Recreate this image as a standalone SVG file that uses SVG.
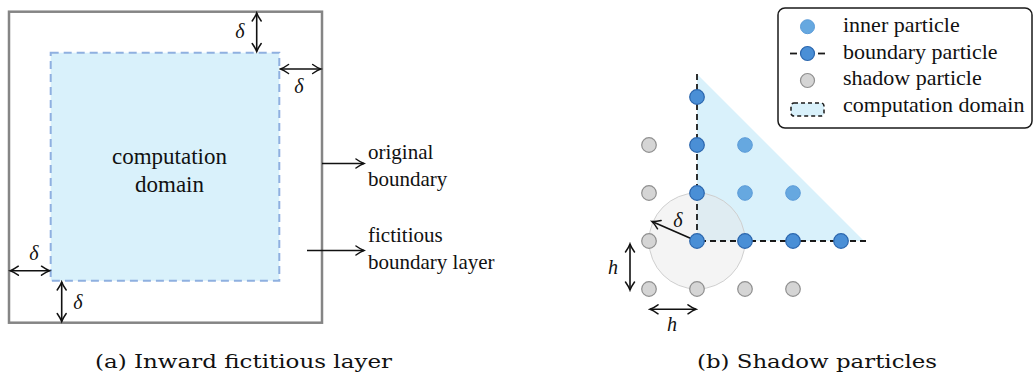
<svg xmlns="http://www.w3.org/2000/svg" width="1034" height="381" viewBox="0 0 1034 381">
<style>
.t{font-family:"Liberation Serif","Times New Roman",serif;fill:#111}
.m{font-family:"Liberation Serif","Times New Roman",serif;font-style:italic;fill:#111;font-size:20px;text-anchor:middle}
.arr{stroke:#111;stroke-width:1.6;fill:none;marker-start:url(#ah);marker-end:url(#ah)}
.arr1{stroke:#111;stroke-width:1.6;fill:none;marker-end:url(#ah)}
.inner{fill:#66a8e0;stroke:#5b9bd8;stroke-width:1}
.bnd{fill:#4a8fd6;stroke:#2b66ad;stroke-width:1.2}
.sh{fill:#d5d5d5;stroke:#8f8f8f;stroke-width:1.2}
.cap{font-family:"DejaVu Serif","Liberation Serif",serif;fill:#111;font-size:19px}
</style>
<defs>
<marker id="ah" viewBox="-10 -6 12 12" refX="0" refY="0" markerWidth="12" markerHeight="12" markerUnits="userSpaceOnUse" orient="auto-start-reverse">
<path d="M-8,-4.5 Q-3,-1 0,0 Q-3,1 -8,4.5" fill="none" stroke="#111" stroke-width="1.5" stroke-linecap="round"/>
</marker>
</defs>
<rect width="1034" height="381" fill="#fff"/>

<!-- Left panel -->
<g id="original-boundary">
<rect x="9" y="11.7" width="313" height="311" fill="none" stroke="#858585" stroke-width="2.5"/>
</g>
<g id="computation-domain">
<rect x="50.7" y="52.7" width="228.6" height="228" fill="#d9f1fb" stroke="#8fb0e0" stroke-width="2" stroke-dasharray="8,5"/>
<text class="t" x="169.5" y="164.3" font-size="23" text-anchor="middle">computation</text>
<text class="t" x="169.5" y="191.7" font-size="23" text-anchor="middle">domain</text>
</g>
<g id="label-original">
<text class="t" x="368" y="159" font-size="21">original</text>
<text class="t" x="368" y="186" font-size="21">boundary</text>
</g>
<g id="label-fictitious">
<text class="t" x="368" y="242" font-size="21">fictitious</text>
<text class="t" x="368" y="269" font-size="21">boundary layer</text>
</g>

<!-- Right panel background shapes -->
<g id="domain-triangle">
<polygon points="697,74 697,241 864,241" fill="#d9f1fb"/>
</g>
<g id="support-circle">
<circle cx="697" cy="241" r="48" fill="#e6e6e6" fill-opacity="0.45" stroke="#cfcfcf" stroke-width="1"/>
</g>
<g id="boundary-lines">
<path d="M697,74 V241 H866" fill="none" stroke="#1a1a1a" stroke-width="1.8" stroke-dasharray="6,4"/>
</g>

<g id="connectors">
<line class="arr1" x1="322" y1="163.5" x2="364" y2="163.5"/>
<line class="arr1" x1="307" y1="250.5" x2="364" y2="250.5"/>
<line class="arr" x1="256.7" y1="13" x2="256.7" y2="51.5"/>
<line class="arr" x1="280.5" y1="69" x2="320.7" y2="69"/>
<line class="arr" x1="10.3" y1="270.7" x2="49.5" y2="270.7"/>
<line class="arr" x1="61.7" y1="282" x2="61.7" y2="321.5"/>
<line class="arr1" x1="696.7" y1="241" x2="652" y2="221.5"/>
<line class="arr" x1="630" y1="244" x2="630" y2="290"/>
<line class="arr" x1="650" y1="309.3" x2="696" y2="309.3"/>
</g>
<g id="delta-labels">
<text class="m" x="240" y="38">δ</text>
<text class="m" x="299" y="93">δ</text>
<text class="m" x="34" y="260">δ</text>
<text class="m" x="78" y="309">δ</text>
<text class="m" x="678" y="227">δ</text>
<text class="m" x="613" y="274">h</text>
<text class="m" x="672" y="331">h</text>
</g>

<g id="shadow-particles">
<circle class="sh" cx="649" cy="145" r="7.3"/>
<circle class="sh" cx="649" cy="193" r="7.3"/>
<circle class="sh" cx="649" cy="241" r="7.3"/>
<circle class="sh" cx="649" cy="289" r="7.3"/>
<circle class="sh" cx="697" cy="289" r="7.3"/>
<circle class="sh" cx="745" cy="289" r="7.3"/>
<circle class="sh" cx="793" cy="289" r="7.3"/>
</g>
<g id="inner-particles">
<circle class="inner" cx="745" cy="145" r="7.3"/>
<circle class="inner" cx="745" cy="193" r="7.3"/>
<circle class="inner" cx="793" cy="193" r="7.3"/>
</g>
<g id="boundary-particles">
<circle class="bnd" cx="697" cy="97" r="7.3"/>
<circle class="bnd" cx="697" cy="145" r="7.3"/>
<circle class="bnd" cx="697" cy="193" r="7.3"/>
<circle class="bnd" cx="697" cy="241" r="7.3"/>
<circle class="bnd" cx="745" cy="241" r="7.3"/>
<circle class="bnd" cx="793" cy="241" r="7.3"/>
<circle class="bnd" cx="841" cy="241" r="7.3"/>
</g>

<g id="legend">
<rect x="778" y="8" width="254" height="120" rx="7" fill="#fff" stroke="#1a1a1a" stroke-width="1.5"/>
<circle class="inner" cx="807.5" cy="26.7" r="7"/>
<line x1="790" y1="53.5" x2="797" y2="53.5" stroke="#1a1a1a" stroke-width="1.8"/>
<line x1="818" y1="53.5" x2="825" y2="53.5" stroke="#1a1a1a" stroke-width="1.8"/>
<circle class="bnd" cx="807.5" cy="53.5" r="7"/>
<circle class="sh" cx="807.5" cy="80.5" r="7"/>
<rect x="791" y="103" width="33" height="13" rx="3" fill="#d9f1fb" stroke="#1a1a1a" stroke-width="1.5" stroke-dasharray="4,3"/>
<text class="t" x="843" y="32" font-size="22">inner particle</text>
<text class="t" x="843" y="58.5" font-size="22">boundary particle</text>
<text class="t" x="843" y="85" font-size="22">shadow particle</text>
<text class="t" x="843" y="111.7" font-size="22">computation domain</text>
</g>

<g id="captions">
<text class="cap" x="95" y="368" textLength="297" lengthAdjust="spacingAndGlyphs">(a) Inward fictitious layer</text>
<text class="cap" x="697" y="368" textLength="240" lengthAdjust="spacingAndGlyphs">(b) Shadow particles</text>
</g>
</svg>
